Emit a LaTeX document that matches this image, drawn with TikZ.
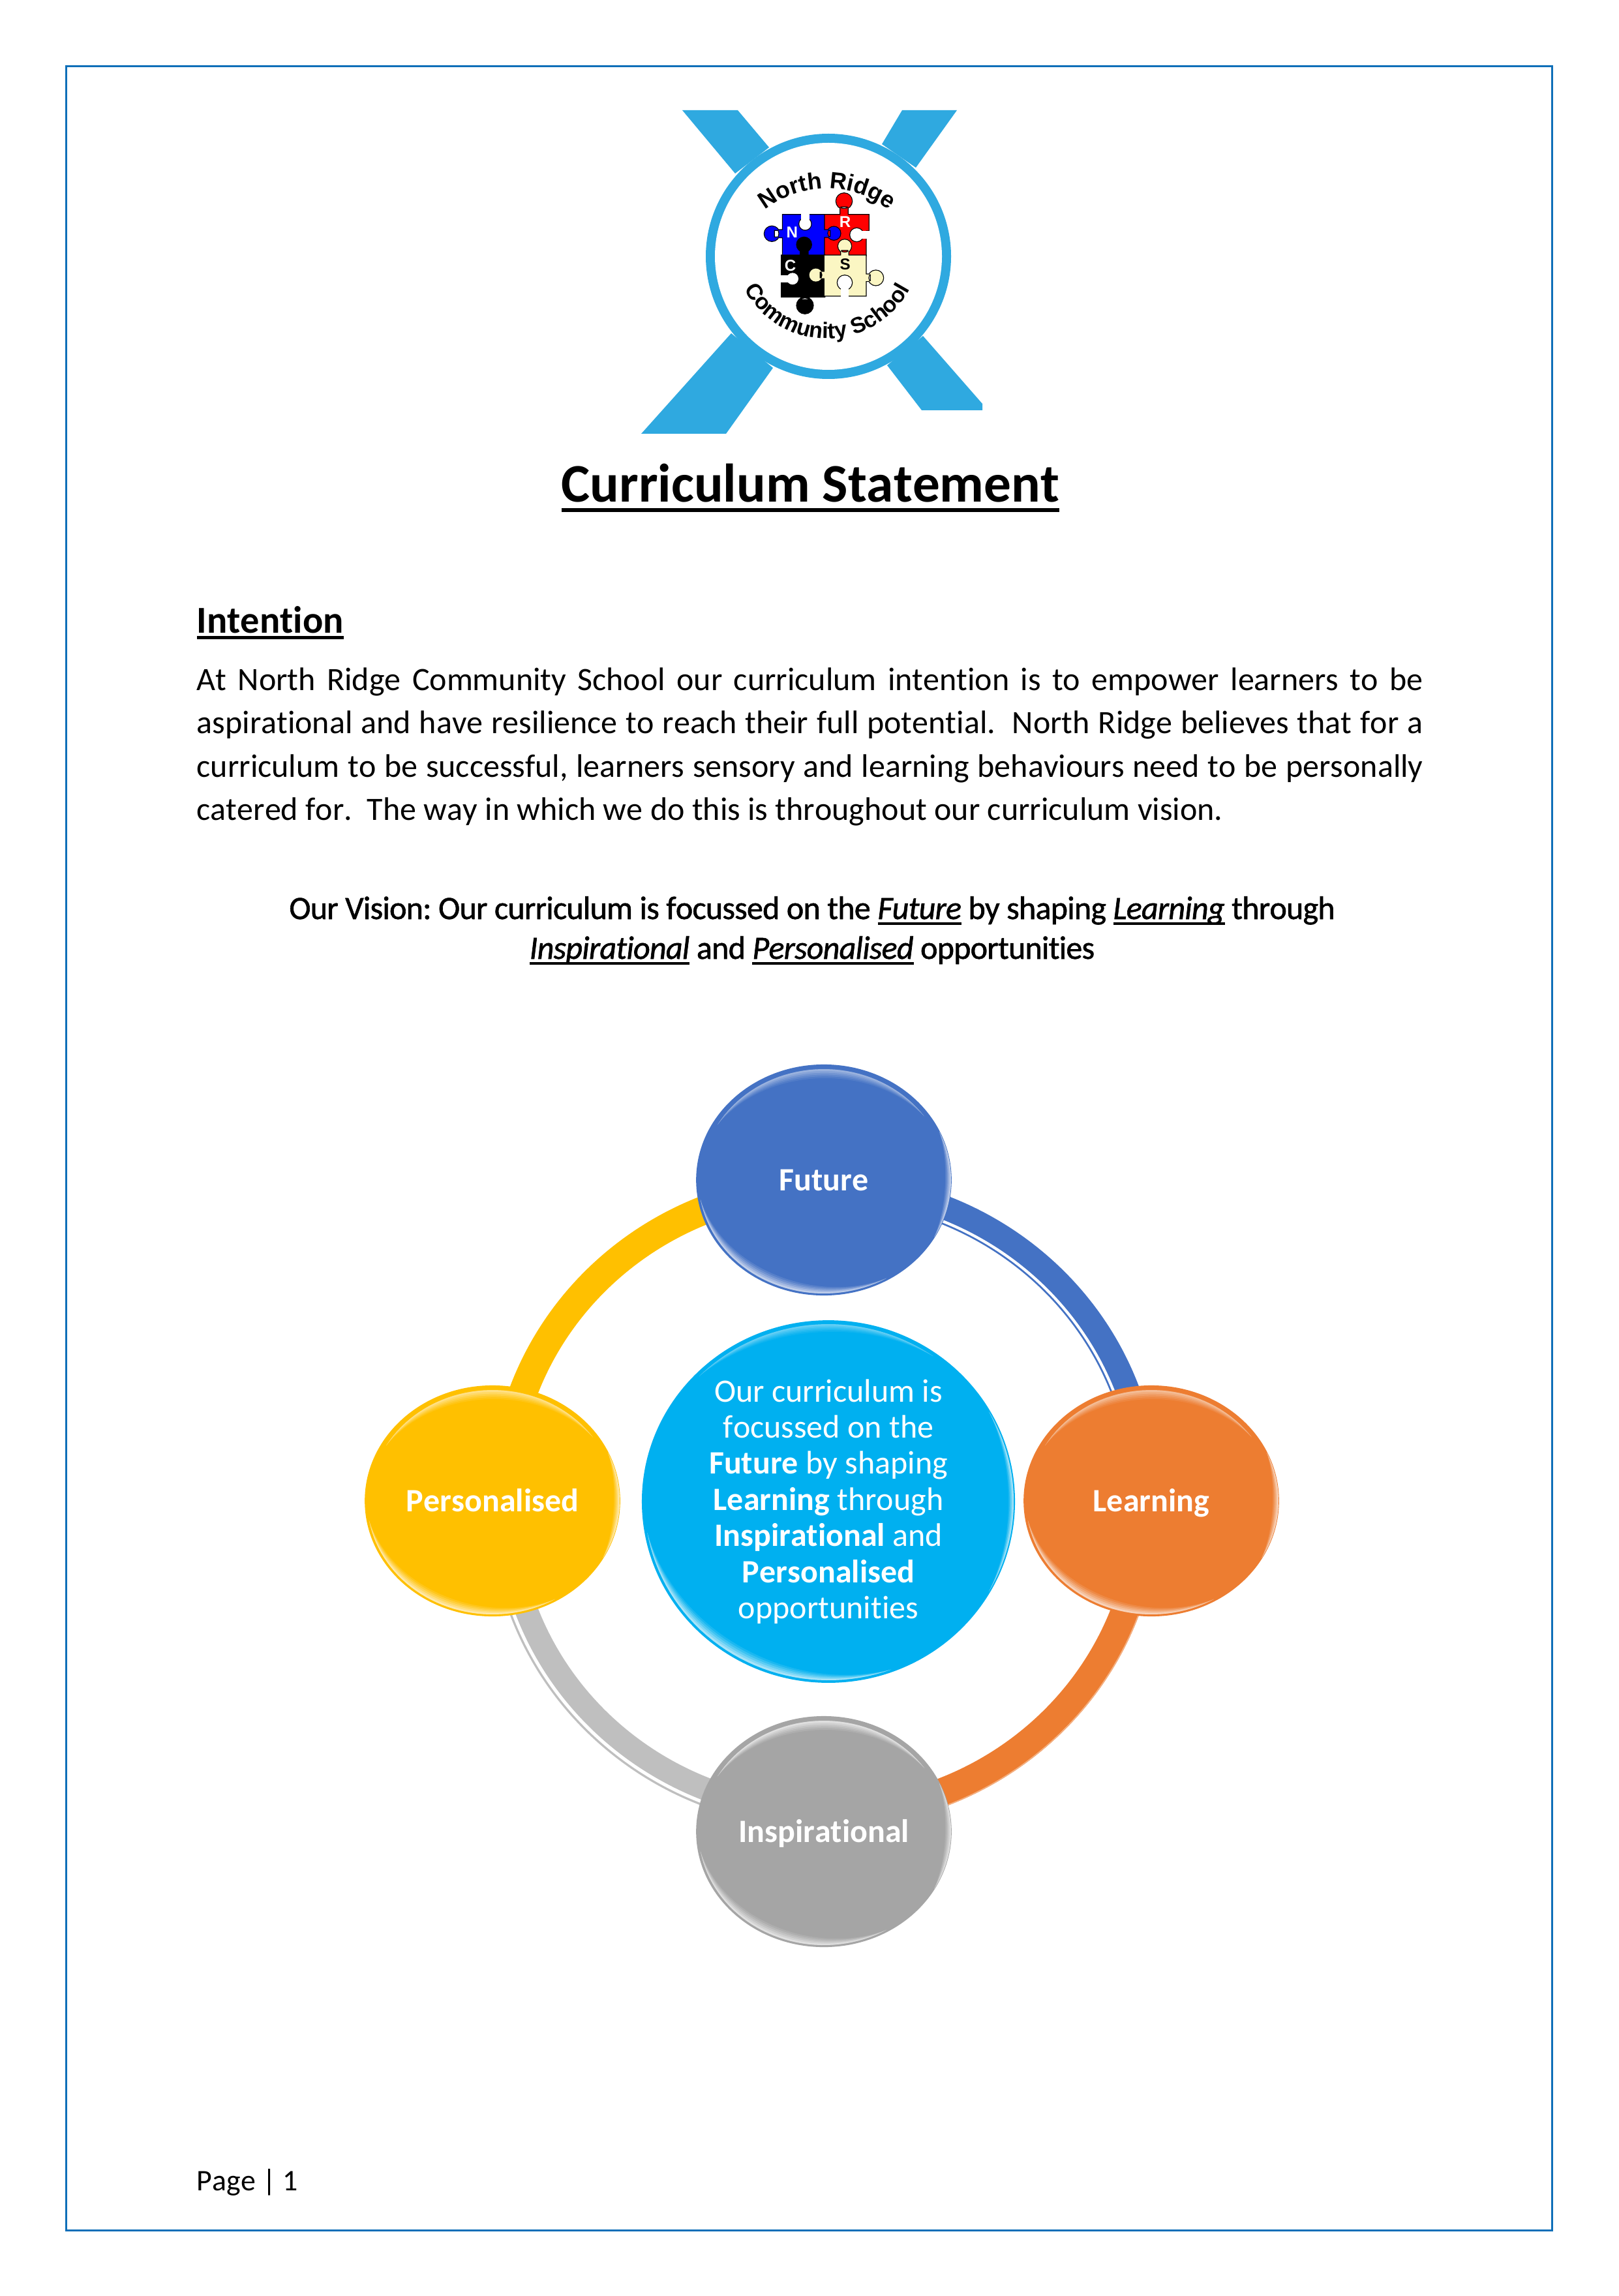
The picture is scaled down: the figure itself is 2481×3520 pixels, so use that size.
\documentclass[tikz,border=0pt]{standalone}
\usepackage{fontspec}
\usetikzlibrary{shapes.geometric,decorations.text}
\setmainfont{Carlito}[Ligatures=NoCommon,Kerning=Off]
\newfontfamily\logofont{Liberation Sans}
\newfontfamily\visfont{Carlito}[FakeBold=1.2,LetterSpace=-1.5,Ligatures=NoCommon,Kerning=Off]
\pgfdeclarelayer{bg}
\pgfsetlayers{bg,main}
\newcommand\myul[3]{\setbox0\hbox{#3}\rlap{\rule[-#1]{\wd0}{#2}}\box0 }
\newcommand\vul[1]{\myul{2.2pt}{0.9pt}{\itshape #1}}
\newcommand\pz[2]{\draw[black,line width=0.6pt,fill=black] #2; \fill[#1] #2;}
% tapered highlight along an ellipse node: node, rx, ry, start, end, colour, thickness
\newcommand\hlarc[7]{%
  \begin{scope}[shift={(#1.center)}]
  \foreach \f/\o in {1/0.10,0.8/0.14,0.6/0.18,0.4/0.24,0.2/0.30}{
    \fill[#6,opacity=\o]
      plot[domain=#4:#5,samples=40] ({(#2)*cos(\x)},{(#3)*sin(\x)})
      -- plot[domain=#5:#4,samples=40]
        ({(#2-\f*#7*sin((180/((#5)-(#4)))*(\x-(#4))))*cos(\x)},{(#3-\f*#7*sin((180/((#5)-(#4)))*(\x-(#4))))*sin(\x)})
      -- cycle;
  }
  \end{scope}}
\definecolor{cblue}{HTML}{4472C4}
\definecolor{corange}{HTML}{ED7D31}
\definecolor{cgrey}{HTML}{A5A5A5}
\definecolor{cgreyl}{HTML}{BFBFBF}
\definecolor{cyellow}{HTML}{FFC000}
\definecolor{ccyan}{HTML}{00B0F0}
\definecolor{clogo}{HTML}{2FA9E0}
\definecolor{cframe}{HTML}{0F6FB8}
\definecolor{cream}{HTML}{FBF6C3}
\tikzset{
  x=0.24pt,y=0.24pt,
  orb/.style={ellipse,inner sep=0pt,minimum width=94pt,minimum height=85pt,fill=#1,text=white,
     font=\fontsize{12}{14}\selectfont\bfseries,text height=7.7pt,text depth=0pt},
  ringline/.style={line width=10.5pt,#1},
  bodyline/.style={anchor=base west,inner sep=0pt,font=\fontsize{12}{14}\selectfont},
  visline/.style={anchor=base,inner sep=0pt,font=\fontsize{12}{14}\selectfont\visfont},
  arctext/.style={decorate,decoration={text along path,text align=center,text={#1}}}
}
\begin{document}
\frenchspacing
\begin{tikzpicture}
\useasboundingbox (0,0) rectangle (2481,-3520);
\begin{pgfonlayer}{bg}
\fill[white] (0,0) rectangle (2481,-3520);
\end{pgfonlayer}
\draw[cframe,line width=0.75pt] (101.5,-101.5) rectangle (2379.5,-3419.5);

% logo
\fill[clogo] (1046,-169) -- (1131,-169) -- (1179,-226) -- (1127,-266) -- cycle;
\fill[clogo] (1383,-169) -- (1467,-169) -- (1404,-257) -- (1352,-221) -- cycle;
\fill[clogo] (1121,-511) -- (1185,-564) -- (1113,-665) -- (983,-665) -- cycle;
\fill[clogo] (1415,-515) -- (1506,-619) -- (1506,-629) -- (1413,-629) -- (1360,-560) -- cycle;
\fill[clogo] (1270,-393) circle (188);
\fill[white] (1270,-393) circle (174);
\path[arctext={|\logofont\bfseries\fontsize{8.6}{10}\selectfont|North Ridge}]
   (1268,-442) ++(150:153) arc[start angle=150,end angle=30,radius=153];
\path[arctext={|\logofont\bfseries\fontsize{8.2}{10}\selectfont|Community School}]
   (1268,-375) ++(185:144) arc[start angle=185,end angle=355,radius=144];
\begin{scope}[shift={(1120,-290)},x=0.08pt,y=-0.08pt]
  \pz{red}{(430,118) rectangle (635,190) (430,190) rectangle (622,305) (522,55) circle (36) (505,80) rectangle (539,125)}
  \pz{blue}{(240,118) rectangle (430,305) (190,205) circle (34) (200,188) rectangle (245,222) (475,203) circle (30) (425,188) rectangle (460,220)}
  \pz{black}{(235,305) rectangle (432,495) (342,535) circle (37) (325,490) rectangle (360,510) (338,255) circle (33) (322,280) rectangle (355,310)}
  \pz{cream}{(432,305) rectangle (622,490) (392,395) circle (30) (410,380) rectangle (440,410) (668,408) circle (34) (615,392) rectangle (645,423) (525,262) circle (30) (508,280) rectangle (542,310)}
  \pz{white}{(343,160) circle (27)}
  \fill[white] (325,112) rectangle (362,145);
  \pz{white}{(580,210) circle (30)}
  \fill[white] (600,193) rectangle (642,227);
  \pz{white}{(525,430) circle (33)}
  \fill[white] (506,450) rectangle (544,497);
  \pz{white}{(285,412) circle (27)}
  \fill[white] (226,395) rectangle (265,429);
  \node[text=white,font=\logofont\bfseries\fontsize{5.8}{7}\selectfont,inner sep=0pt] (ln) at (283,200) {N};
  \node[text=white,font=\logofont\bfseries\fontsize{5.8}{7}\selectfont,inner sep=0pt] (lr) at (527,152) {R};
  \node[text=white,font=\logofont\bfseries\fontsize{5.8}{7}\selectfont,inner sep=0pt] (lc) at (275,352) {C};
  \node[text=black,font=\logofont\bfseries\fontsize{5.8}{7}\selectfont,inner sep=0pt] (ls) at (527,347) {S};
\end{scope}

% headings and text
\node[anchor=base,inner sep=0pt,font=\fontsize{20}{24}\selectfont\bfseries] (title) at (1242.5,-770) {\myul{3.6pt}{1.44pt}{Curriculum Statement}};
\node[bodyline,font=\fontsize{14}{16}\selectfont\bfseries] (intent) at (301,-970) {\myul{2.5pt}{1.2pt}{Intention}};
\node[bodyline] (b1) at (301,-1058) {\makebox[451.2pt][s]{At North Ridge Community School our curriculum intention is to empower learners to be}};
\node[bodyline] (b2) at (301,-1124) {\makebox[451.2pt][s]{aspirational and have resilience to reach their full potential.\ \ North Ridge believes that for a}};
\node[bodyline] (b3) at (301,-1191) {\makebox[451.2pt][s]{curriculum to be successful, learners sensory and learning behaviours need to be personally}};
\node[bodyline] (b4) at (301,-1257) {\makebox[377.5pt][s]{catered for.\ \ The way in which we do this is throughout our curriculum vision.}};
\node[visline] (v1) at (1245,-1409) {Our Vision: Our curriculum is focussed on the \vul{Future} by shaping \vul{Learning} through};
\node[visline] (v2) at (1245,-1470) {\vul{Inspirational} and \vul{Personalised} opportunities};
\node[bodyline,font=\fontsize{11}{13}\selectfont] (pg) at (301,-3358) {Page | 1};

% cycle
\node[orb=cblue] (future) at (1263,-1809) {Future};
\node[orb=corange] (learning) at (1765,-2301) {Learning};
\node[orb=cgrey] (insp) at (1263,-2808) {Inspirational};
\node[orb=cyellow] (pers) at (755,-2301) {Personalised};
\node[ellipse,inner sep=0pt,minimum width=137.3pt,minimum height=133.4pt,fill=ccyan,text=white,align=center,
  font=\fontsize{12}{13.3}\selectfont] (centre) at (1270,-2302)
  {Our curriculum is\\focussed on the\\\textbf{Future} by shaping\\\textbf{Learning} through\\\textbf{Inspirational} and\\\textbf{Personalised}\\opportunities};

\begin{pgfonlayer}{bg}
  \draw[ringline=cblue] ([shift={(1,-11.5)}]future.center) to[out=0,in=90] ([shift={(-9,0)}]learning.center);
  \draw[ringline=corange] ([shift={(-9,0)}]learning.center) to[out=-90,in=0] ([shift={(1,27)}]insp.center);
  \draw[ringline=cgreyl] ([shift={(1,27)}]insp.center) to[out=180,in=-90] ([shift={(17,0)}]pers.center);
  \draw[ringline=cyellow] ([shift={(17,0)}]pers.center) to[out=90,in=180] ([shift={(1,-11.5)}]future.center);
  \draw[white,line width=1pt] ([shift={(1,-28.5)}]future.center) to[out=0,in=90] ([shift={(-26,0)}]learning.center);
  \draw[white,line width=1.2pt] ([shift={(1,11)}]insp.center) to[out=180,in=-90] ([shift={(1,0)}]pers.center);
  \draw[corange!60!white,line width=0.4pt] ([shift={(12,0)}]learning.center) to[out=-90,in=0] ([shift={(1,6)}]insp.center);
\end{pgfonlayer}

% bevels
\foreach \n/\c in {future/cblue!30!white,learning/corange!25!white,insp/white,pers/cyellow!20!white}{
  \hlarc{\n}{188}{170}{150}{35}{\c}{14}
  \hlarc{\n}{192}{174}{190}{300}{white}{14}
  \hlarc{\n}{195}{176}{-30}{25}{white}{9}
}
\hlarc{centre}{280}{272}{135}{55}{ccyan!40!white}{12}
\hlarc{centre}{282}{274}{190}{290}{white}{16}
\hlarc{centre}{284}{276}{-30}{30}{white}{8}
\end{tikzpicture}
\end{document}
